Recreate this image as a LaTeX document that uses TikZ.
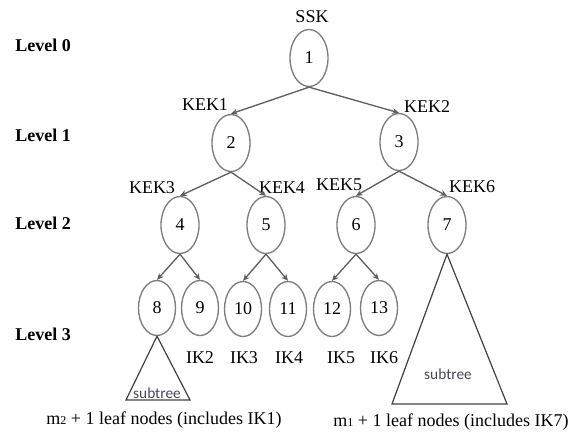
\documentclass[tikz,border=0pt]{standalone}
\usepackage{fontspec}
\setmainfont{Liberation Serif}
\newfontfamily\subfont{Carlito}
\usetikzlibrary{shapes.geometric,arrows.meta}
\definecolor{edgegray}{RGB}{95,95,95}
\definecolor{ringgray}{RGB}{125,125,125}
\definecolor{subgray}{RGB}{70,70,90}
\begin{document}
\begin{tikzpicture}[x=0.75pt,y=-0.75pt,
  txt/.style={font=\fontsize{13.5}{15}\selectfont, inner sep=0pt},
  lvl/.style={font=\fontsize{13.5}{15}\selectfont\bfseries, inner sep=0pt, anchor=west},
  keynode/.style={ellipse, draw=ringgray, line width=1pt, minimum width=28.5pt, minimum height=42.75pt, inner sep=0pt, font=\fontsize{13.5}{15}\selectfont},
  leafnode/.style={keynode, minimum width=27.75pt, minimum height=41.25pt},
  edge/.style={draw=edgegray, line width=1pt, -{Stealth[length=5pt,width=4.5pt]}},
  tri/.style={draw=black!75, line width=0.9pt},
  subt/.style={font=\subfont\fontsize{11.5}{13}\selectfont, text=subgray, inner sep=0pt}
]
\useasboundingbox (0,0) rectangle (580,442);

% level labels
\node[lvl] (l0) at (15,45) {Level 0};
\node[lvl] (l1) at (15,135) {Level 1};
\node[lvl] (l2) at (15,223) {Level 2};
\node[lvl] (l3) at (15,334) {Level 3};

% nodes
\node[keynode] (n1) at (309,58) {1};
\node[keynode] (n2) at (231,143) {2};
\node[keynode] (n3) at (399,142) {3};
\node[keynode] (n4) at (180,225) {4};
\node[keynode] (n5) at (266,225) {5};
\node[keynode] (n6) at (356,225) {6};
\node[keynode] (n7) at (447,225) {7};
\node[leafnode] (n8) at (157,308) {8};
\node[leafnode] (n9) at (200,308) {9};
\node[leafnode] (n10) at (243,309) {10};
\node[leafnode] (n11) at (288,309) {11};
\node[leafnode] (n12) at (332,309) {12};
\node[leafnode] (n13) at (379,308) {13};

% key labels
\node[txt] (ssk) at (312,17) {SSK};
\node[txt] (k1) at (205,105) {KEK1};
\node[txt] (k2) at (427,107) {KEK2};
\node[txt] (k3) at (152,188) {KEK3};
\node[txt] (k4) at (282,188) {KEK4};
\node[txt] (k5) at (339,185) {KEK5};
\node[txt] (k6) at (472,187) {KEK6};

% IK labels
\node[txt] (ik2) at (200,358) {IK2};
\node[txt] (ik3) at (244,358) {IK3};
\node[txt] (ik4) at (289,358) {IK4};
\node[txt] (ik5) at (341,358) {IK5};
\node[txt] (ik6) at (384,358) {IK6};

% edges
\draw[edge] (n1.south) -- (n2.north);
\draw[edge] (n1.south) -- (n3.north);
\draw[edge] (n2.south) -- (n4.north);
\draw[edge] (n2.south) -- (n5.north);
\draw[edge] (n3.south) -- (n6.north);
\draw[edge] (n3.south) -- (n7.north);
\draw[edge] (n4.south) -- (n8.north);
\draw[edge] (n4.south) -- (n9.north);
\draw[edge] (n5.south) -- (n10.north);
\draw[edge] (n5.south) -- (n11.north);
\draw[edge] (n6.south) -- (n12.north);
\draw[edge] (n6.south) -- (n13.north);

% subtrees
\coordinate (s1l) at (126,400);
\coordinate (s1r) at (190,400);
\draw[tri] (n8.south) -- (s1r) -- (s1l) -- cycle;
\node[subt] (st1) at (157,393) {subtree};
\coordinate (s2l) at (392,404);
\coordinate (s2r) at (507,404);
\draw[tri] (n7.south) -- (s2r) -- (s2l) -- cycle;
\node[subt] (st2) at (448,374) {subtree};

% captions
\node[txt] (c1) at (164,420) {m{\fontsize{9}{10}\selectfont 2} + 1 leaf nodes (includes IK1)};
\node[txt] (c2) at (451,422) {m{\fontsize{9}{10}\selectfont 1} + 1 leaf nodes (includes IK7)};
\end{tikzpicture}
\end{document}
